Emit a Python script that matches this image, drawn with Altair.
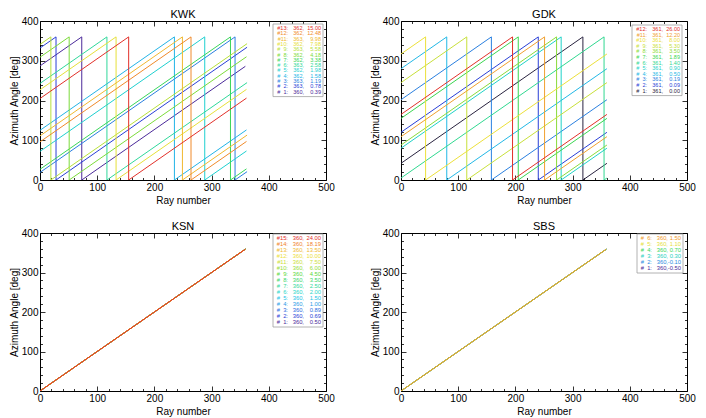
import altair as alt
import pandas as pd

FONT = "Liberation Sans"

# ---------------- data ----------------
# per sweep: number, rays, elevation, azimuth at ray 0, ray where azimuth wraps 360->0,
#            last ray index, azimuth at last ray
KWK_NUM   = [1, 2, 3, 4, 5, 6, 7, 8, 9, 10, 11, 12, 13]
KWK_NRAYS = [360, 363, 363, 362, 362, 363, 362, 362, 363, 362, 363, 362, 362]
KWK_ELEV  = [0.39, 0.78, 1.19, 1.58, 1.98, 2.58, 3.38, 4.18, 5.58, 7.98, 9.98, 12.48, 15.00]
KWK_START = [287, 332, 19, 125, 72, 243, 27, 309, 341, 227, 111, 96, 205]
KWK_WRAP  = [73, 28, 341, 235, 288, 117, 333, 51, 19, 133, 249, 264, 155]
KWK_LAST  = [359, 362, 362, 361, 361, 362, 361, 361, 362, 361, 362, 361, 361]
KWK_END   = [286, 334, 21, 126, 73, 245, 28, 310, 343, 228, 113, 97, 206]

GDK_NUM   = [1, 2, 3, 4, 5, 6, 7, 8, 9, 10, 11, 12]
GDK_NRAYS = [361, 361, 361, 361, 361, 361, 361, 361, 361, 361, 361, 361]
GDK_ELEV  = [0.00, 0.09, 0.19, 0.50, 0.90, 1.40, 1.89, 3.50, 5.30, 8.00, 12.20, 26.00]
GDK_START = [42, 120, 202, 280, 80, 5, 155, 88, 245, 317, 109, 165]
GDK_WRAP  = [318, 240, 158, 80, 280, 355, 205, 272, 115, 43, 251, 195]
GDK_LAST  = [360, 360, 360, 360, 360, 360, 360, 360, 360, 360, 360, 360]
GDK_END   = [42, 120, 202, 280, 80, 5, 155, 88, 245, 317, 109, 165]

KSN_NUM   = [1, 2, 3, 4, 5, 6, 7, 8, 9, 10, 11, 12, 13, 14, 15]
KSN_NRAYS = [360, 360, 360, 360, 360, 360, 360, 360, 360, 360, 360, 360, 360, 360, 360]
KSN_ELEV  = [0.50, 0.69, 0.89, 1.00, 1.50, 2.00, 2.50, 3.50, 4.50, 6.00, 7.50, 10.00, 13.50, 18.19, 24.00]
KSN_START = [0, 0, 0, 0, 0, 0, 0, 0, 0, 0, 0, 0, 0, 0, 0]
KSN_WRAP  = [None] * 15
KSN_LAST  = [359, 359, 359, 359, 359, 359, 359, 359, 359, 359, 359, 359, 359, 359, 359]
KSN_END   = [359, 359, 359, 359, 359, 359, 359, 359, 359, 359, 359, 359, 359, 359, 359]

SBS_NUM   = [1, 2, 3, 4, 5, 6]
SBS_NRAYS = [360, 360, 360, 360, 360, 360]
SBS_ELEV  = [-0.50, -0.10, 0.30, 0.70, 1.10, 1.50]
SBS_START = [0, 0, 0, 0, 0, 0]
SBS_WRAP  = [None] * 6
SBS_LAST  = [359, 359, 359, 359, 359, 359]
SBS_END   = [359, 359, 359, 359, 359, 359]

# ---------------- styles ----------------
KWK_COLORS = ["#4b2a9a", "#2a3fd6", "#2a7fe0", "#22b4e6", "#1fd0d0", "#2fd89a", "#3ad65a",
              "#7cdb3a", "#b8e03a", "#e6e03a", "#f0b830", "#f08a2a", "#e2302a"]
GDK_COLORS = ["#2a2440", "#2a3fd6", "#2a80e0", "#22b8e6", "#1fd2c8", "#30d890", "#3ad650",
              "#8adb3a", "#c8e03a", "#ece03a", "#f0a030", "#e2302a"]
KSN_COLORS = ["#4b2a9a", "#2a3fd6", "#2a6ee0", "#2a9ce6", "#22c4e6", "#1fd6c8", "#2fd89a",
              "#3ad66a", "#5ad83a", "#96dc3a", "#cce03a", "#ece03a", "#f0b830", "#f0842a", "#e2302a"]
SBS_COLORS = ["#4b2a9a", "#2a8ae0", "#1fd0c0", "#3ad65a", "#e6e03a", "#f09a2a"]

W = 286
H_TOP = 159
H_BOT = 158
TICK_EXPR = "datum.value % 100 === 0 ? -5 : -2.5"
LABEL_EXPR = "datum.value % 100 === 0 ? datum.label : ''"
XVALS = list(range(0, 501, 20))
YVALS = list(range(0, 401, 20))


def key_of(n):
    return f"k{n:02d}"


def segment_table(num, start, wrap, last, end):
    rows = []
    for n, s, w, l, e in zip(num, start, wrap, last, end):
        if w is None:
            pts = [(0, s), (l, e)]
        else:
            pts = [(0, s), (w, 360), (w, 0), (l, e)]
        for (r1, a1), (r2, a2) in zip(pts[:-1], pts[1:]):
            rows.append({"key": key_of(n), "num": n, "ray": r1, "az": a1, "ray2": r2, "az2": a2})
    return pd.DataFrame(rows)


def legend_table(num, nrays, elev):
    rows = []
    order = list(range(len(num)))[::-1]
    for row, i in enumerate(order):
        n = num[i]
        rows.append({
            "key": key_of(n),
            "row": row,
            "lab": f"#{n:2d}:".replace(" ", "\u2007"),
            "nr": f"{nrays[i]},",
            "el": f"{elev[i]:.2f}",
        })
    return pd.DataFrame(rows)


def panel(title, H, num, nrays, elev, start, wrap, last, end, colors, leg):
    df = segment_table(num, start, wrap, last, end)
    ldf = legend_table(num, nrays, elev)
    dom = [key_of(n) for n in num]
    color = alt.Color("key:N", scale=alt.Scale(domain=dom, range=colors), legend=None)
    xs = alt.Scale(domain=[0, 500], nice=False)
    ys = alt.Scale(domain=[0, 400], nice=False)

    lines = alt.Chart(df).mark_rule(strokeWidth=1, clip=True).encode(
        x=alt.X("ray:Q", scale=xs, axis=alt.Axis(
            values=XVALS, tickSize={"expr": TICK_EXPR}, labelExpr=LABEL_EXPR, grid=False,
            labelPadding=7, title="Ray number", titlePadding=3, labelFlush=False)),
        x2="ray2:Q",
        y=alt.Y("az:Q", scale=ys, axis=alt.Axis(
            values=YVALS, tickSize={"expr": TICK_EXPR}, labelExpr=LABEL_EXPR, grid=False,
            labelPadding=7, title="Azimuth Angle [deg]", titlePadding=2, labelFlush=False)),
        y2="az2:Q",
        color=color,
        order=alt.Order("num:Q", sort="ascending"),
    )
    frame = alt.Chart(df).mark_point(opacity=0).encode(
        x=alt.X("ray:Q", scale=xs, axis=alt.Axis(
            orient="top", values=XVALS, tickSize={"expr": TICK_EXPR}, grid=False,
            labels=False, title=None, minExtent=0, maxExtent=0)),
        y=alt.Y("az:Q", scale=ys, axis=alt.Axis(
            orient="right", values=YVALS, tickSize={"expr": TICK_EXPR}, grid=False,
            labels=False, title=None, minExtent=0, maxExtent=0)),
    )

    bl, bw, bt, first, sp, fs = leg
    n = len(ldf)
    bb = first + (n - 1) * sp + (first - bt) + 1
    box = alt.Chart(pd.DataFrame({"k": [0]})).mark_rect(
        fill="white", stroke="#a0a0a0", strokeWidth=0.8).encode(
        x=alt.value(bl), x2=alt.value(bl + bw), y=alt.value(bt), y2=alt.value(bb))
    ly = alt.Y("row:Q", scale=alt.Scale(domain=[0, n - 1], range=[first, first + (n - 1) * sp]), axis=None)
    texts = []
    for field, off in (("lab", 15), ("nr", 31), ("el", bw - 2)):
        texts.append(alt.Chart(ldf).mark_text(
            align="right", baseline="middle", fontSize=fs, font=FONT).encode(
            x=alt.value(bl + off), y=ly, text=f"{field}:N", color=color))

    return alt.layer(lines, frame, box, *texts).resolve_scale(
        y="independent").resolve_axis(x="independent", y="independent").properties(
        width=W, height=H,
        title=alt.TitleParams(text=title, fontSize=11, fontWeight="normal", font=FONT,
                              offset=-4, color="black"))


kwk = panel("KWK", H_TOP, KWK_NUM, KWK_NRAYS, KWK_ELEV, KWK_START, KWK_WRAP, KWK_LAST, KWK_END,
            KWK_COLORS, (233, 50, 3, 7, 5.3, 5.5))
gdk = panel("GDK", H_TOP, GDK_NUM, GDK_NRAYS, GDK_ELEV, GDK_START, GDK_WRAP, GDK_LAST, GDK_END,
            GDK_COLORS, (231, 50, 4, 8, 5.6, 5.5))
ksn = panel("KSN", H_BOT, KSN_NUM, KSN_NRAYS, KSN_ELEV, KSN_START, KSN_WRAP, KSN_LAST, KSN_END,
            KSN_COLORS, (233, 50, 1, 5, 6.0, 5.8))
sbs = panel("SBS", H_BOT, SBS_NUM, SBS_NRAYS, SBS_ELEV, SBS_START, SBS_WRAP, SBS_LAST, SBS_END,
            SBS_COLORS, (236, 46, 1, 5, 6.0, 5.8))

chart = alt.vconcat(
    alt.hconcat(kwk, gdk, spacing=34).resolve_scale(color="independent"),
    alt.hconcat(ksn, sbs, spacing=34).resolve_scale(color="independent"),
    spacing=14,
).resolve_scale(
    color="independent"
).properties(
    padding=0, background="white"
).configure_view(
    stroke="black", strokeWidth=1
).configure_axis(
    labelFont=FONT, titleFont=FONT, labelFontSize=10, titleFontSize=10,
    titleFontWeight="normal", labelColor="black", titleColor="black",
    tickColor="black", tickWidth=0.8, domain=False, grid=False,
)

chart.save("out.html", embed_options={"renderer": "svg", "actions": False})
